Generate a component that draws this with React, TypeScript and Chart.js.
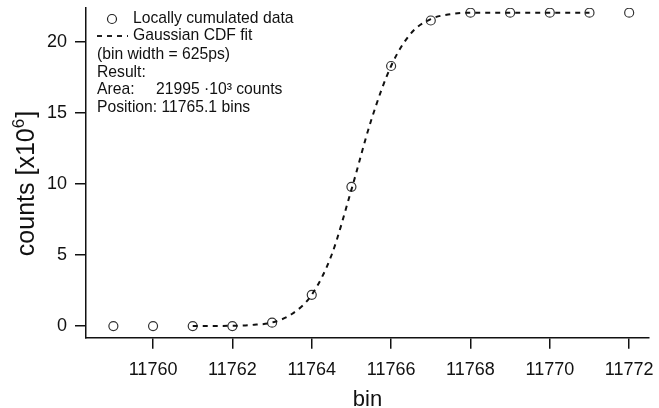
import React, { useEffect, useRef } from "react";
import { Chart, registerables } from "chart.js";

Chart.register(...registerables);

// Data
const bins = [11759, 11760, 11761, 11762, 11763, 11764, 11765, 11766, 11767, 11768, 11769, 11770, 11771, 11772];
const counts = [0.0, 0.0, 0.0, 0.0, 0.24, 2.2, 9.8, 18.3, 21.5, 22.05, 22.05, 22.05, 22.05, 22.05];

const fitBins = [11761, 11762, 11762.5, 11763, 11763.5, 11764, 11764.5, 11765, 11765.5, 11766, 11766.5, 11767, 11767.5, 11768, 11769, 11770, 11771];
const fitCounts = [0.0, 0.02, 0.08, 0.25, 0.85, 2.2, 5.0, 9.6, 14.5, 18.3, 20.6, 21.6, 21.95, 22.05, 22.05, 22.05, 22.05];

const xTickValues = [11760, 11762, 11764, 11766, 11768, 11770, 11772];
const yTickValues = [0, 5, 10, 15, 20];

const legendLabels = ["Locally cumulated data", "Gaussian CDF fit"];
const infoLines = ["(bin width = 625ps)", "Result:"];
const areaLabel = "Area:";
const areaValue = "21995 \u00b710\u00b3 counts";
const positionLine = "Position: 11765.1 bins";
const xTitle = "bin";
const yTitleMain = "counts [x10";
const yTitleSup = "6";
const yTitleEnd = "]";

const FONT = '"Liberation Sans", Arial, Helvetica, sans-serif';

export default function App() {
  const ref = useRef<HTMLCanvasElement | null>(null);

  useEffect(() => {
    const canvas = ref.current;
    if (!canvas) return;

    const overlay = {
      id: "overlay",
      afterDraw(chart: any) {
        const ctx = chart.ctx as CanvasRenderingContext2D;
        ctx.save();
        ctx.fillStyle = "#111";
        ctx.strokeStyle = "#222";
        // legend
        ctx.font = `15.7px ${FONT}`;
        ctx.textBaseline = "middle";
        ctx.textAlign = "left";
        ctx.lineWidth = 1.2;
        ctx.beginPath();
        ctx.arc(112, 19, 4.5, 0, Math.PI * 2);
        ctx.stroke();
        ctx.fillText(legendLabels[0], 133, 19);
        ctx.lineWidth = 2;
        ctx.setLineDash([5, 5]);
        ctx.beginPath();
        ctx.moveTo(97, 36);
        ctx.lineTo(128, 36);
        ctx.stroke();
        ctx.setLineDash([]);
        ctx.fillText(legendLabels[1], 133, 36);
        ctx.fillText(infoLines[0], 97, 55);
        ctx.fillText(infoLines[1], 97, 72.5);
        ctx.fillText(areaLabel, 97, 90);
        ctx.fillText(areaValue, 156, 90);
        ctx.fillText(positionLine, 97, 107.5);

        // x title
        ctx.font = `22px ${FONT}`;
        ctx.textAlign = "center";
        ctx.textBaseline = "alphabetic";
        const area = chart.chartArea;
        ctx.fillText(xTitle, (area.left + area.right) / 2, 406);

        // y title
        ctx.translate(33.5, 183.5);
        ctx.rotate(-Math.PI / 2);
        ctx.textAlign = "left";
        const mainFont = `25px ${FONT}`;
        const supFont = `17px ${FONT}`;
        ctx.font = mainFont;
        const w1 = ctx.measureText(yTitleMain).width;
        const w3 = ctx.measureText(yTitleEnd).width;
        ctx.font = supFont;
        const w2 = ctx.measureText(yTitleSup).width;
        const total = w1 + w2 + w3 + 1;
        let x0 = -total / 2;
        ctx.font = mainFont;
        ctx.fillText(yTitleMain, x0, 0);
        x0 += w1;
        ctx.font = supFont;
        ctx.fillText(yTitleSup, x0, -10);
        x0 += w2 + 1;
        ctx.font = mainFont;
        ctx.fillText(yTitleEnd, x0, 0);
        ctx.restore();
      },
    };

    const chart = new Chart(canvas, {
      type: "scatter",
      data: {
        datasets: [
          {
            label: legendLabels[0],
            data: bins.map((b, i) => ({ x: b, y: counts[i] })),
            showLine: false,
            pointStyle: "circle",
            pointRadius: 4.5,
            pointBorderWidth: 1.2,
            borderColor: "#333",
            backgroundColor: "rgba(0,0,0,0)",
            order: 2,
          },
          {
            label: legendLabels[1],
            type: "line",
            data: fitBins.map((b, i) => ({ x: b, y: fitCounts[i] })),
            showLine: true,
            borderColor: "#111",
            borderWidth: 2,
            borderDash: [5, 5],
            pointRadius: 0,
            cubicInterpolationMode: "monotone",
            fill: false,
            order: 1,
          } as any,
        ],
      },
      options: {
        animation: false,
        responsive: false,
        maintainAspectRatio: false,
        layout: { padding: { top: 8, right: 10, left: 0, bottom: 0 } },
        plugins: {
          legend: { display: false },
          tooltip: { enabled: false },
        },
        scales: {
          x: {
            type: "linear",
            min: 11758.31,
            max: 11772.5,
            afterBuildTicks: (scale: any) => {
              scale.ticks = xTickValues.map((v) => ({ value: v }));
            },
            afterFit: (scale: any) => {
              scale.height = 70.3;
              scale.paddingLeft = 0;
              scale.paddingRight = 0;
            },
            grid: {
              display: true,
              drawOnChartArea: false,
              drawTicks: true,
              tickLength: 11,
              color: "#111",
              lineWidth: 1.5,
            },
            border: { display: true, color: "#111", width: 1.5 },
            ticks: {
              color: "#111",
              padding: 11,
              maxRotation: 0,
              autoSkip: false,
              font: { family: FONT, size: 18 },
              callback: (v: any) => String(v),
            },
          },
          y: {
            type: "linear",
            min: -0.82,
            max: 22.38,
            afterBuildTicks: (scale: any) => {
              scale.ticks = yTickValues.map((v) => ({ value: v }));
            },
            afterFit: (scale: any) => {
              scale.width = 86;
              scale.paddingTop = 0;
              scale.paddingBottom = 0;
            },
            grid: {
              display: true,
              drawOnChartArea: false,
              drawTicks: true,
              tickLength: 11,
              color: "#111",
              lineWidth: 1.5,
            },
            border: { display: true, color: "#111", width: 1.5 },
            ticks: {
              color: "#111",
              padding: 8,
              autoSkip: false,
              font: { family: FONT, size: 18 },
              callback: (v: any) => String(v),
            },
          },
        },
      },
      plugins: [overlay],
    });

    return () => chart.destroy();
  }, []);

  return (
    <div style={{ position: "fixed", left: 0, top: 0, width: 659, height: 408, background: "#fff" }}>
      <canvas ref={ref} width={659} height={408} style={{ width: 659, height: 408, display: "block" }} />
    </div>
  );
}
